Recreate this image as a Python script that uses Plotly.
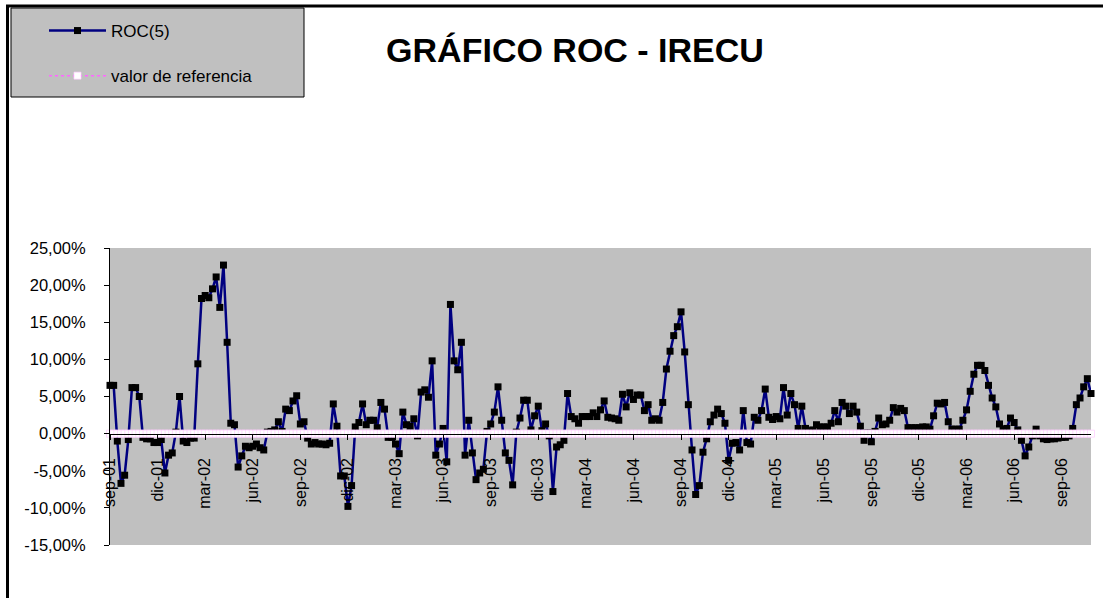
import plotly.graph_objects as go

# ROC(5) weekly values, in percent
roc_values = [
    6.5, 6.5, -1.0, -6.7, -5.6, -0.8, 6.2, 6.2, 5.0, -0.5,
    -0.7, -0.7, -1.2, -1.2, -0.8, -5.3, -2.9, -2.6, 0.2, 5.0,
    -1.0, -1.2, -0.6, -0.6, 9.4, 18.2, 18.6, 18.3, 19.5, 21.1,
    17.0, 22.7, 12.3, 1.4, 1.2, -4.5, -3.0, -1.7, -1.9, -1.7,
    -1.4, -1.9, -2.2, 0.2, 0.3, 0.5, 1.6, 0.3, 3.3, 3.1,
    4.4, 5.1, 1.3, 1.6, -0.6, -1.4, -1.2, -1.4, -1.4, -1.5,
    -1.3, 4.0, 1.0, -5.7, -5.7, -9.8, -7.0, 0.9, 1.5, 4.0,
    1.2, 1.8, 1.8, 0.8, 4.2, 3.3, -0.5, -0.5, -1.4, -2.7,
    2.9, 1.2, 1.0, 2.0, -0.3, 5.6, 5.9, 4.9, 9.8, -2.9,
    -1.4, 0.7, -3.8, 17.4, 9.8, 8.6, 12.3, -2.9, 1.8, -2.6,
    -6.2, -5.3, -4.8, 0.3, 1.3, 2.9, 6.3, 1.8, -2.6, -3.6,
    -6.9, 0.2, 2.1, 4.5, 4.5, 0.5, 2.4, 3.7, 0.4, 1.3,
    -0.3, -7.8, -1.8, -1.5, -0.9, 5.4, 2.3, 2.0, 1.4, 2.3,
    2.3, 2.3, 2.8, 2.3, 3.2, 4.4, 2.2, 2.1, 2.0, 1.8,
    5.3, 3.6, 5.5, 4.6, 5.2, 5.2, 3.1, 3.9, 1.8, 2.0,
    1.8, 4.2, 8.7, 11.1, 13.2, 14.4, 16.4, 11.0, 3.9, -2.2,
    -8.2, -7.0, -2.5, -0.7, 1.6, 2.5, 3.3, 2.7, 1.4, -3.6,
    -1.3, -1.2, -2.2, 3.1, -1.2, -1.4, 2.2, 1.8, 3.1, 6.0,
    2.2, 1.9, 2.3, 2.0, 6.2, 2.5, 5.4, 3.9, 0.7, 3.7,
    0.7, 0.4, 0.5, 1.2, 0.9, 0.9, 0.9, 1.4, 3.1, 1.6,
    4.2, 3.7, 2.7, 3.7, 2.9, 1.0, -0.9, 0.1, -1.1, 0.3,
    2.1, 1.2, 1.3, 1.8, 3.5, 2.9, 3.4, 3.1, 0.8, 0.8,
    0.8, 0.8, 0.9, 0.9, 0.6, 2.4, 4.1, 4.0, 4.2, 1.6,
    0.6, 0.6, 0.6, 1.8, 3.2, 5.7, 8.0, 9.2, 9.2, 8.5,
    6.5, 4.8, 3.6, 1.3, 0.6, 0.7, 2.1, 1.5, 0.5, -0.9,
    -3.0, -1.8, -0.3, 0.6, -0.3, -0.7, -0.8, -0.7, -0.7, -0.6,
    -0.5, -0.5, -0.3, 0.7, 3.9, 4.8, 6.3, 7.4, 5.4,
]
ref_value = 0.0
ref_values = [ref_value] * len(roc_values)

tick_labels = [
    "sep-01", "dic-01", "mar-02", "jun-02", "sep-02", "dic-02", "mar-03",
    "jun-03", "sep-03", "dic-03", "mar-04", "jun-04", "sep-04", "dic-04",
    "mar-05", "jun-05", "sep-05", "dic-05", "mar-06", "jun-06", "sep-06",
]
label_step = 13

y_ticks = [-15, -10, -5, 0, 5, 10, 15, 20, 25]
y_tick_labels = ["-15,00%", "-10,00%", "-5,00%", "0,00%", "5,00%",
                 "10,00%", "15,00%", "20,00%", "25,00%"]

x = list(range(len(roc_values)))
tick_pos = [i * label_step for i in range(len(tick_labels))]

# page geometry (pixels)
W, H = 1103, 598
L, R, T, B = 110, 1091, 248, 545


def px_x(p):
    return (p - L) / (R - L)


def px_y(p):
    return (B - p) / (B - T)


FONT = "Liberation Sans, Arial, sans-serif"

fig = go.Figure()
fig.add_trace(go.Scatter(
    x=x, y=roc_values, name="ROC(5)", mode="lines+markers",
    line=dict(color="#000080", width=2.5),
    marker=dict(symbol="square", size=7, color="black"),
    cliponaxis=False, legendgroup="a",
))
fig.add_trace(go.Scatter(
    x=x, y=ref_values, name="valor de referencia", mode="lines+markers",
    line=dict(color="#FF66FF", width=1.5, dash="dot"),
    marker=dict(symbol="square", size=7, color="white",
                line=dict(color="#FFCCFF", width=0.7)),
    cliponaxis=False, legendgroup="b",
))

fig.update_layout(
    width=W, height=H,
    margin=dict(l=L, r=W - R, t=T, b=H - B),
    paper_bgcolor="white",
    plot_bgcolor="#C0C0C0",
    font=dict(family=FONT, size=15, color="black"),
    title=dict(
        text="<b>GRÁFICO ROC - IRECU</b>",
        font=dict(family=FONT, size=34, color="black"),
        x=px_x(575), xref="paper", xanchor="center",
        y=1 - 50 / H, yref="container", yanchor="middle",
    ),
    showlegend=True,
    legend=dict(
        x=px_x(44), y=px_y(13), xanchor="left", yanchor="top",
        bgcolor="rgba(0,0,0,0)", borderwidth=0,
        tracegroupgap=20, traceorder="grouped", itemwidth=57,
        font=dict(family=FONT, size=17, color="black"),
    ),
    shapes=[
        dict(type="rect", xref="paper", yref="paper",
             x0=px_x(11), x1=px_x(304), y0=px_y(8), y1=px_y(97),
             fillcolor="#C0C0C0", line=dict(color="black", width=1),
             layer="below"),
        dict(type="rect", xref="paper", yref="paper",
             x0=px_x(7.5), x1=px_x(1120), y0=px_y(6), y1=px_y(620),
             fillcolor="rgba(0,0,0,0)", line=dict(color="black", width=3)),
    ],
)

fig.update_xaxes(
    range=[0, len(roc_values) - 1],
    anchor="free", position=(0 + 15) / 40,
    tickmode="array", tickvals=tick_pos, ticktext=tick_labels,
    tickangle=-90, ticks="outside", ticklen=5, tickcolor="black",
    ticklabelstandoff=12,
    showline=True, linecolor="black", linewidth=1,
    showgrid=False, zeroline=False,
    tickfont=dict(family=FONT, size=16, color="black"),
)
fig.update_yaxes(
    range=[-15, 25],
    tickmode="array", tickvals=y_ticks, ticktext=y_tick_labels,
    ticks="outside", ticklen=5, tickcolor="black",
    ticklabelstandoff=15,
    showline=True, linecolor="black", linewidth=1,
    showgrid=False, zeroline=False,
    tickfont=dict(family=FONT, size=16.5, color="black"),
)

# the page body has an 8px default margin; remove it so the figure sits at 0,0
fig.write_html("out.html", config={"displayModeBar": False},
               post_script="document.body.style.margin='0';")
